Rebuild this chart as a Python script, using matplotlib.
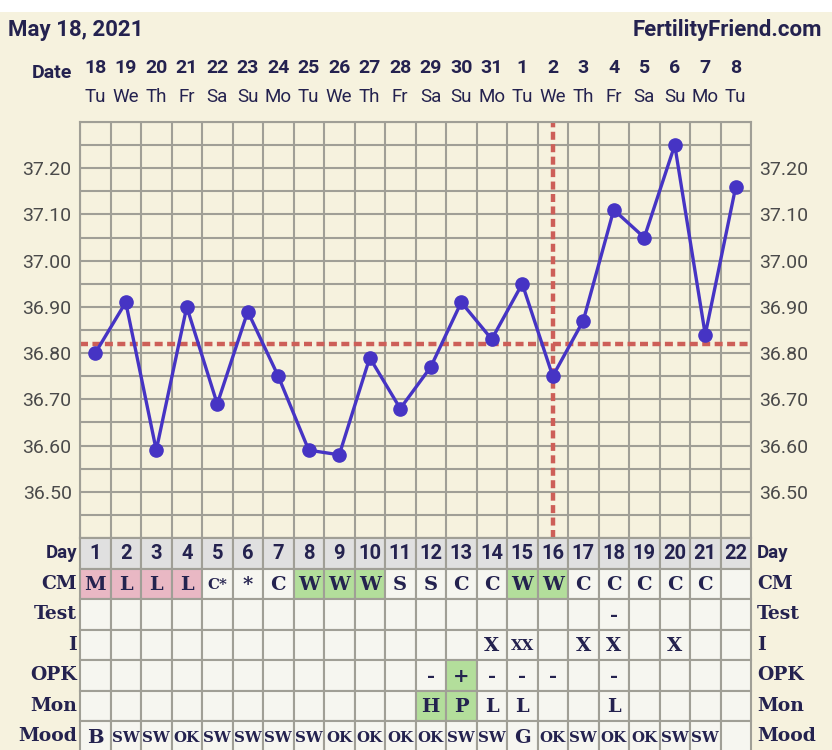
import numpy as np
import matplotlib.pyplot as plt
from matplotlib.patches import Rectangle

# ---- data ----
days = list(range(1, 23))
dates = ["18", "19", "20", "21", "22", "23", "24", "25", "26", "27", "28", "29",
         "30", "31", "1", "2", "3", "4", "5", "6", "7", "8"]
weekdays = ["Tu", "We", "Th", "Fr", "Sa", "Su", "Mo", "Tu", "We", "Th", "Fr",
            "Sa", "Su", "Mo", "Tu", "We", "Th", "Fr", "Sa", "Su", "Mo", "Tu"]
temps = [36.80, 36.91, 36.59, 36.90, 36.69, 36.89, 36.75, 36.59, 36.58, 36.79,
         36.68, 36.77, 36.91, 36.83, 36.95, 36.75, 36.87, 37.11, 37.05, 37.25,
         36.84, 37.16]
coverline = 36.82
ovulation_day = 16

row_names = ["Day", "CM", "Test", "I", "OPK", "Mon", "Mood"]
cm = ["M", "L", "L", "L", "C*", "*", "C", "W", "W", "W", "S", "S", "C", "C",
      "W", "W", "C", "C", "C", "C", "C", ""]
test = [""] * 17 + ["-"] + [""] * 4
intercourse = [""] * 13 + ["X", "XX", "", "X", "X", "", "X", "", ""]
opk = [""] * 11 + ["-", "+", "-", "-", "-", "", "-", "", "", "", ""]
mon = [""] * 11 + ["H", "P", "L", "L", "", "", "L", "", "", "", ""]
mood = ["B", "SW", "SW", "OK", "SW", "SW", "SW", "SW", "OK", "OK", "OK", "OK",
        "SW", "SW", "G", "OK", "SW", "OK", "OK", "SW", "SW", ""]

pink_cells = {"CM": [1, 2, 3, 4]}
green_cells = {"CM": [8, 9, 10, 15, 16], "OPK": [13], "Mon": [12, 13]}

# ---- style ----
cream = "#f6f2de"
navy = "#24224f"
gridc = "#a09f96"
blue = "#4634c4"
red = "#cd5f58"
W, H = 832, 750

fig = plt.figure(figsize=(W / 100, H / 100), dpi=100, facecolor=cream)
fig.patches.append(Rectangle((0, 1 - 12 / H), 1, 12 / H, transform=fig.transFigure,
                             facecolor="white", edgecolor="none", zorder=0))

def box(left, top, right, bottom):
    return [left / W, 1 - bottom / H, (right - left) / W, (bottom - top) / H]

# ---- temperature chart ----
ax = fig.add_axes(box(80, 122, 751, 538))
ax.set_facecolor(cream)
ax.set_xlim(0.5, 22.5)
ax.set_ylim(36.40, 37.30)
ax.set_xticks([])
ax.set_xticks(np.arange(0.5, 23, 1), minor=True)
ax.set_yticks(np.arange(36.5, 37.21, 0.1))
ax.set_yticks(np.arange(36.40, 37.31, 0.05), minor=True)
ax.set_yticklabels(["%.2f" % v for v in np.arange(36.5, 37.21, 0.1)])
ax.tick_params(which="both", length=0, labelright=True, labelsize=14,
               labelcolor="#4a4a4a", pad=6)
ax.grid(which="both", color=gridc, linewidth=1.5)
ax.set_axisbelow(True)
for s in ax.spines.values():
    s.set_color(gridc)
    s.set_linewidth(1.5)
for lab in ax.get_yticklabels():
    lab.set_fontfamily("Roboto")

ax.axhline(coverline, color=red, linewidth=3.2, dashes=(1.8, 1.0), zorder=2)
ax.axvline(ovulation_day, color=red, linewidth=3.2, dashes=(1.8, 1.0), zorder=2)
ax.plot(days, temps, color=blue, linewidth=2.4, marker="o", markersize=9.5,
        zorder=3)

# date header
xtr = ax.get_xaxis_transform()
for d, dt, wd in zip(days, dates, weekdays):
    ax.annotate(dt, xy=(d, 1), xycoords=xtr, xytext=(0, 39), textcoords="offset points",
                ha="center", va="center", fontsize=14, fontweight="bold",
                color=navy, family="Roboto")
    ax.annotate(wd, xy=(d, 1), xycoords=xtr, xytext=(0, 18), textcoords="offset points",
                ha="center", va="center", fontsize=13.5, color=navy, family="Roboto")
ax.annotate("Date", xy=(0.5, 1), xycoords=xtr, xytext=(-6, 35), textcoords="offset points",
            ha="right", va="center", fontsize=14, fontweight="bold", color=navy,
            family="Roboto")

fig.text(8 / W, 1 - 30 / H, "May 18, 2021", ha="left", va="center", fontsize=16,
         fontweight="bold", color=navy, family="Roboto")
fig.text(822 / W, 1 - 30 / H, "FertilityFriend.com", ha="right", va="center",
         fontsize=16, fontweight="bold", color=navy, family="Roboto")

# ---- table ----
tab = fig.add_axes(box(80, 538, 751, 538 + 7 * 30.5))
tab.set_xlim(0.5, 22.5)
tab.set_ylim(7, 0)
tab.axis("off")

rows = {"Day": [str(d) for d in days], "CM": cm, "Test": test, "I": intercourse,
        "OPK": opk, "Mon": mon, "Mood": mood}
for r, name in enumerate(row_names):
    for i, d in enumerate(days):
        fc = "#e0e0e0" if name == "Day" else "#f6f6f0"
        if d in pink_cells.get(name, []):
            fc = "#e9b8c4"
        if d in green_cells.get(name, []):
            fc = "#b3de9b"
        tab.add_patch(Rectangle((d - 0.5, r), 1, 1, facecolor=fc, edgecolor=gridc,
                                linewidth=1.5, clip_on=False))
        txt = rows[name][i]
        if not txt:
            continue
        if name == "Day":
            tab.text(d, r + 0.5, txt, ha="center", va="center", fontsize=14.5,
                     fontweight="bold", color=navy, family="Roboto")
        else:
            fs = 10.8 if len(txt) > 1 else 14
            tab.text(d, r + 0.55, txt, ha="center", va="center", fontsize=fs,
                     fontweight="bold", color=navy, family="DejaVu Serif")
    fam = "Roboto" if name == "Day" else "DejaVu Serif"
    tab.text(0.5 - 0.1, r + 0.5, name, ha="right", va="center", fontsize=13.5,
             fontweight="bold", color=navy, family=fam, clip_on=False)
    tab.text(22.5 + 0.2, r + 0.5, name, ha="left", va="center", fontsize=13.5,
             fontweight="bold", color=navy, family=fam, clip_on=False)

fig.savefig("out.png", dpi=100, facecolor=cream)
